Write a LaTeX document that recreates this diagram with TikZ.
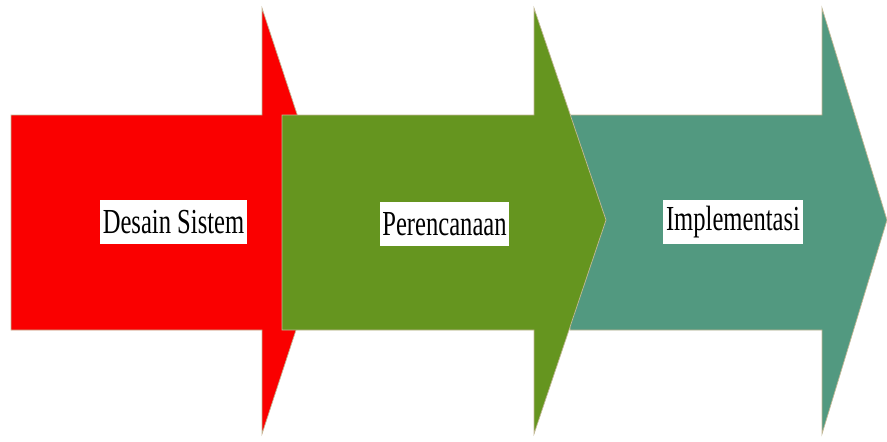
\documentclass[tikz,border=0pt]{standalone}
\usepackage{fontspec}
\setmainfont{Liberation Serif}
\usepackage{graphicx}
\usepackage{tikz}
\usetikzlibrary{positioning}
\usepackage{xcolor}
\definecolor{stepred}{RGB}{250,0,0}
\definecolor{stepgreen}{RGB}{101,149,31}
\definecolor{stepteal}{RGB}{82,153,128}
\definecolor{steprim}{RGB}{196,184,150}
\tikzstyle{phase} = [draw=steprim, line width=0.4pt, line join=miter]
\tikzstyle{phaselabel} = [fill=white, inner xsep=1.5pt, inner ysep=0pt, minimum height=0.88cm, font=\fontsize{20}{22}\selectfont]
\newcommand{\narrow}[1]{\scalebox{0.7}[1]{#1}}

\begin{document}
\begin{tikzpicture}
\useasboundingbox (0,0) rectangle (17.74,8.82);
% Three arrows (red, teal, then green on top)
\filldraw[phase, fill=stepred] (0.22,6.52) -- (5.24,6.52) -- (5.24,8.66) -- (6.64,4.42) -- (5.24,0.14) -- (5.24,2.22) -- (0.22,2.22) -- cycle;
\filldraw[phase, fill=stepteal] (11.40,6.52) -- (16.44,6.52) -- (16.44,8.66) -- (17.74,4.42) -- (16.44,0.14) -- (16.44,2.22) -- (11.40,2.22) -- cycle;
\filldraw[phase, fill=stepgreen] (5.64,6.52) -- (10.68,6.52) -- (10.68,8.66) -- (12.12,4.42) -- (10.68,0.14) -- (10.68,2.22) -- (5.64,2.22) -- cycle;

% Labels
\node[phaselabel] (desain) at (3.47,4.38) {\narrow{Desain Sistem}};
\node[phaselabel] (rencana) at (8.89,4.34) {\narrow{Perencanaan}};
\node[phaselabel] (implementasi) at (14.66,4.38) {\narrow{Implementasi}};
\end{tikzpicture}
\end{document}
